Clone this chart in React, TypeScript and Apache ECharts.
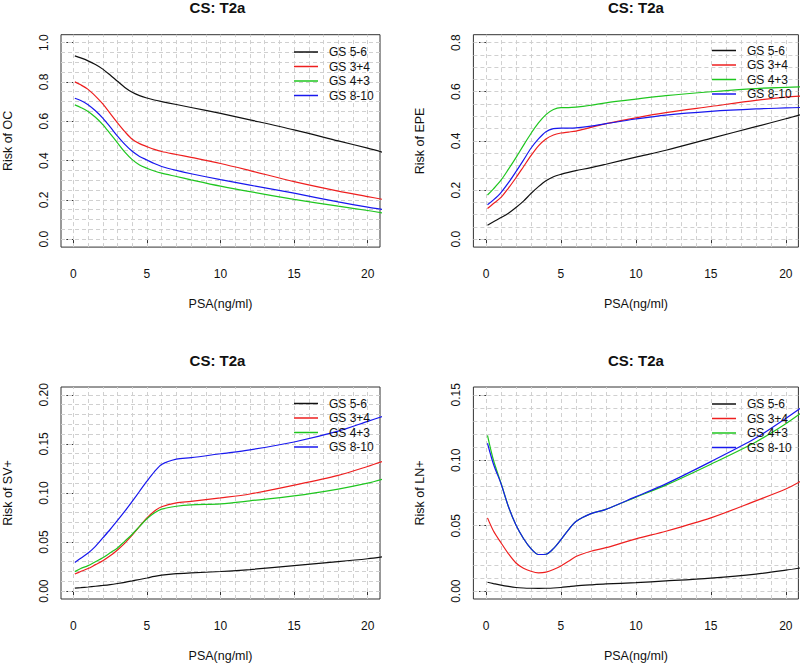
import React, { useEffect, useRef } from 'react';
import * as echarts from 'echarts';

// ---- data ----
const psa = [0.1, 0.5, 1, 1.5, 2, 2.5, 3, 3.5, 4, 4.5, 5, 5.5, 6, 7, 8, 10, 12, 15, 18, 20, 21];
const groups = ['GS 5-6', 'GS 3+4', 'GS 4+3', 'GS 8-10'];
const groupColors = ['#111111', '#ee1f1f', '#1fc61f', '#1818ee'];

// Risk of OC
const ocGS56 = [0.932, 0.922, 0.907, 0.888, 0.865, 0.835, 0.803, 0.772, 0.747, 0.73, 0.718, 0.708, 0.7, 0.685, 0.67, 0.64, 0.607, 0.556, 0.5, 0.463, 0.443];
const ocGS34 = [0.8, 0.785, 0.762, 0.728, 0.688, 0.64, 0.592, 0.547, 0.508, 0.486, 0.471, 0.457, 0.446, 0.431, 0.416, 0.385, 0.349, 0.293, 0.245, 0.217, 0.203];
const ocGS43 = [0.683, 0.67, 0.65, 0.62, 0.583, 0.537, 0.49, 0.443, 0.405, 0.378, 0.361, 0.347, 0.336, 0.319, 0.302, 0.27, 0.242, 0.203, 0.168, 0.146, 0.134];
const ocGS810 = [0.717, 0.705, 0.684, 0.653, 0.616, 0.571, 0.524, 0.482, 0.447, 0.421, 0.403, 0.385, 0.37, 0.35, 0.333, 0.303, 0.275, 0.234, 0.19, 0.163, 0.151];

// Risk of EPE
const epeGS56 = [0.057, 0.071, 0.088, 0.106, 0.129, 0.155, 0.186, 0.214, 0.238, 0.254, 0.264, 0.272, 0.279, 0.291, 0.305, 0.334, 0.362, 0.41, 0.458, 0.49, 0.507];
const epeGS34 = [0.125, 0.145, 0.17, 0.208, 0.25, 0.295, 0.34, 0.38, 0.408, 0.424, 0.432, 0.436, 0.44, 0.455, 0.47, 0.494, 0.515, 0.54, 0.565, 0.578, 0.582];
const epeGS43 = [0.18, 0.205, 0.24, 0.285, 0.332, 0.382, 0.43, 0.473, 0.507, 0.528, 0.535, 0.535, 0.537, 0.545, 0.555, 0.57, 0.584, 0.6, 0.613, 0.618, 0.62];
const epeGS810 = [0.14, 0.16, 0.19, 0.23, 0.275, 0.322, 0.37, 0.408, 0.437, 0.45, 0.452, 0.452, 0.453, 0.46, 0.47, 0.489, 0.505, 0.52, 0.53, 0.534, 0.536];

// Risk of SV+
const svGS56 = [0.003, 0.0035, 0.0042, 0.005, 0.0058, 0.0067, 0.0078, 0.009, 0.0104, 0.0119, 0.0134, 0.015, 0.0163, 0.0178, 0.0186, 0.02, 0.022, 0.026, 0.03, 0.033, 0.035];
const svGS34 = [0.0175, 0.02, 0.023, 0.027, 0.031, 0.036, 0.042, 0.049, 0.057, 0.066, 0.0747, 0.0815, 0.086, 0.09, 0.0915, 0.095, 0.099, 0.108, 0.118, 0.127, 0.132];
const svGS43 = [0.0199, 0.023, 0.026, 0.03, 0.034, 0.039, 0.044, 0.051, 0.058, 0.066, 0.0737, 0.0795, 0.0835, 0.0865, 0.088, 0.089, 0.092, 0.097, 0.104, 0.11, 0.114];
const svGS810 = [0.0293, 0.0335, 0.0388, 0.0457, 0.0542, 0.0628, 0.072, 0.0815, 0.0915, 0.1018, 0.112, 0.1215, 0.129, 0.1345, 0.136, 0.14, 0.144, 0.152, 0.163, 0.173, 0.178];

// Risk of LN+
const lnGS56 = [0.0068, 0.0058, 0.0046, 0.0036, 0.0028, 0.0024, 0.0022, 0.0021, 0.0022, 0.0024, 0.0028, 0.0034, 0.004, 0.0048, 0.0055, 0.0065, 0.0078, 0.01, 0.013, 0.016, 0.0178];
const lnGS34 = [0.056, 0.046, 0.037, 0.0285, 0.0215, 0.0175, 0.0152, 0.014, 0.0145, 0.0165, 0.0192, 0.0228, 0.0265, 0.0305, 0.0332, 0.04, 0.0458, 0.056, 0.069, 0.078, 0.084];
const lnGS43 = [0.119, 0.1, 0.0826, 0.0645, 0.0505, 0.0402, 0.0325, 0.028, 0.0282, 0.0325, 0.0393, 0.0468, 0.0532, 0.0592, 0.0625, 0.0718, 0.081, 0.097, 0.114, 0.128, 0.136];
const lnGS810 = [0.113, 0.097, 0.0822, 0.0645, 0.0505, 0.0402, 0.0325, 0.028, 0.0282, 0.0325, 0.0393, 0.0468, 0.0532, 0.0592, 0.0625, 0.0722, 0.082, 0.099, 0.117, 0.132, 0.14];

// ticks
const xTicks = [0, 5, 10, 15, 20];
const ocTicks = [0, 0.2, 0.4, 0.6, 0.8, 1.0];
const epeTicks = [0, 0.2, 0.4, 0.6, 0.8];
const svTicks = [0, 0.05, 0.1, 0.15, 0.2];
const lnTicks = [0, 0.05, 0.1, 0.15];

const titleText = 'CS: T2a';
const xName = 'PSA(ng/ml)';

const FONT = '"Liberation Sans", Arial, Helvetica, sans-serif';

function steps(from: number, to: number, step: number): number[] {
  const out: number[] = [];
  const n = Math.round((to - from) / step);
  for (let i = 0; i <= n; i++) out.push(+(from + i * step).toFixed(6));
  return out;
}

const panels = [
  { yName: 'Risk of OC', series: [ocGS56, ocGS34, ocGS43, ocGS810], ticks: ocTicks, dec: 1, yMin: -0.04, yMax: 1.04, gridStep: 0.05,
    left: 55, top: 34.7, legendLeft: 294, legendTop: 45.5 },
  { yName: 'Risk of EPE', series: [epeGS56, epeGS34, epeGS43, epeGS810], ticks: epeTicks, dec: 1, yMin: -0.032, yMax: 0.832, gridStep: 0.05,
    left: 473.4, top: 34.7, legendLeft: 712, legendTop: 44 },
  { yName: 'Risk of SV+', series: [svGS56, svGS34, svGS43, svGS810], ticks: svTicks, dec: 2, yMin: -0.008, yMax: 0.208, gridStep: 0.01,
    left: 55, top: 387, legendLeft: 294, legendTop: 397 },
  { yName: 'Risk of LN+', series: [lnGS56, lnGS34, lnGS43, lnGS810], ticks: lnTicks, dec: 2, yMin: -0.006, yMax: 0.156, gridStep: 0.01,
    left: 473.4, top: 387, legendLeft: 712, legendTop: 397.5 },
];

const W = 325;
const H = 212.4;

export default function App() {
  const ref = useRef<HTMLDivElement>(null);
  useEffect(() => {
    if (!ref.current) return;
    const chart = echarts.init(ref.current, undefined, { renderer: 'svg' });

    const grid = panels.map((p) => ({
      left: p.left, top: p.top, width: W, height: H,
      show: true, borderColor: '#333', borderWidth: 1, backgroundColor: 'transparent',
    }));

    const xAxis = panels.map((p, i) => ({
      type: 'value', gridIndex: i, min: -0.84, max: 20.84,
      axisLine: { show: false },
      axisTick: { show: true, length: 7, customValues: xTicks, lineStyle: { color: '#333', width: 1 } },
      axisLabel: { customValues: xTicks, margin: 21, fontSize: 12, color: '#111', fontFamily: FONT },
      splitLine: { show: false },
      name: xName, nameLocation: 'middle', nameGap: 50,
      nameTextStyle: { fontSize: 12.5, color: '#111', fontFamily: FONT },
    }));

    const yAxis = panels.map((p, i) => ({
      type: 'value', gridIndex: i, min: p.yMin, max: p.yMax,
      axisLine: { show: false },
      axisTick: { show: true, length: 7, customValues: p.ticks, lineStyle: { color: '#333', width: 1 } },
      axisLabel: {
        customValues: p.ticks, rotate: 90, margin: 11, fontSize: 12, color: '#111', fontFamily: FONT,
        formatter: (v: number) => v.toFixed(p.dec),
      },
      splitLine: { show: false },
      name: p.yName, nameLocation: 'middle', nameGap: 47,
      nameTextStyle: { fontSize: 12.5, color: '#111', fontFamily: FONT },
    }));

    const series: any[] = [];
    panels.forEach((p, i) => {
      const xGrid = steps(0, 20, 1);
      const yGrid = steps(0, p.ticks[p.ticks.length - 1], p.gridStep);
      p.series.forEach((vals, g) => {
        const s: any = {
          type: 'line', name: groups[g], xAxisIndex: i, yAxisIndex: i,
          data: psa.map((x, k) => [x, vals[k]]),
          symbol: 'none', showSymbol: false, smooth: 0.3, clip: true, z: 3,
          lineStyle: { color: groupColors[g], width: 1.2 },
          itemStyle: { color: groupColors[g] },
          emphasis: { disabled: true },
        };
        if (g === 0) {
          s.markLine = {
            silent: true, z: 1, symbol: ['none', 'none'], label: { show: false }, animation: false,
            lineStyle: { color: '#d0d0d0', type: [4, 3], width: 1 },
            emphasis: { disabled: true },
            data: [...xGrid.map((v) => ({ xAxis: v })), ...yGrid.map((v) => ({ yAxis: v }))],
          };
        }
        series.push(s);
      });
    });

    const legend = panels.map((p) => ({
      data: groups, orient: 'vertical', left: p.legendLeft, top: p.legendTop,
      icon: 'rect', itemWidth: 24, itemHeight: 1.5, itemGap: 1.5, selectedMode: false, padding: 0,
      textStyle: { fontSize: 12, color: '#111', fontFamily: FONT, padding: [0, 0, 0, 6], lineHeight: 13 },
    }));

    const graphic = panels.map((p) => ({
      type: 'text', x: p.left + W / 2, y: p.top < 100 ? 7.5 : 360,
      style: { text: titleText, font: 'bold 15px ' + FONT, fill: '#111', textAlign: 'center', textVerticalAlign: 'middle' },
      silent: true,
    }));

    chart.setOption({
      animation: false,
      backgroundColor: '#ffffff',
      grid, xAxis, yAxis, series, legend, graphic,
    } as any);

    return () => chart.dispose();
  }, []);

  return <div ref={ref} style={{ position: 'fixed', left: 0, top: 0, width: 800, height: 663 }} />;
}
